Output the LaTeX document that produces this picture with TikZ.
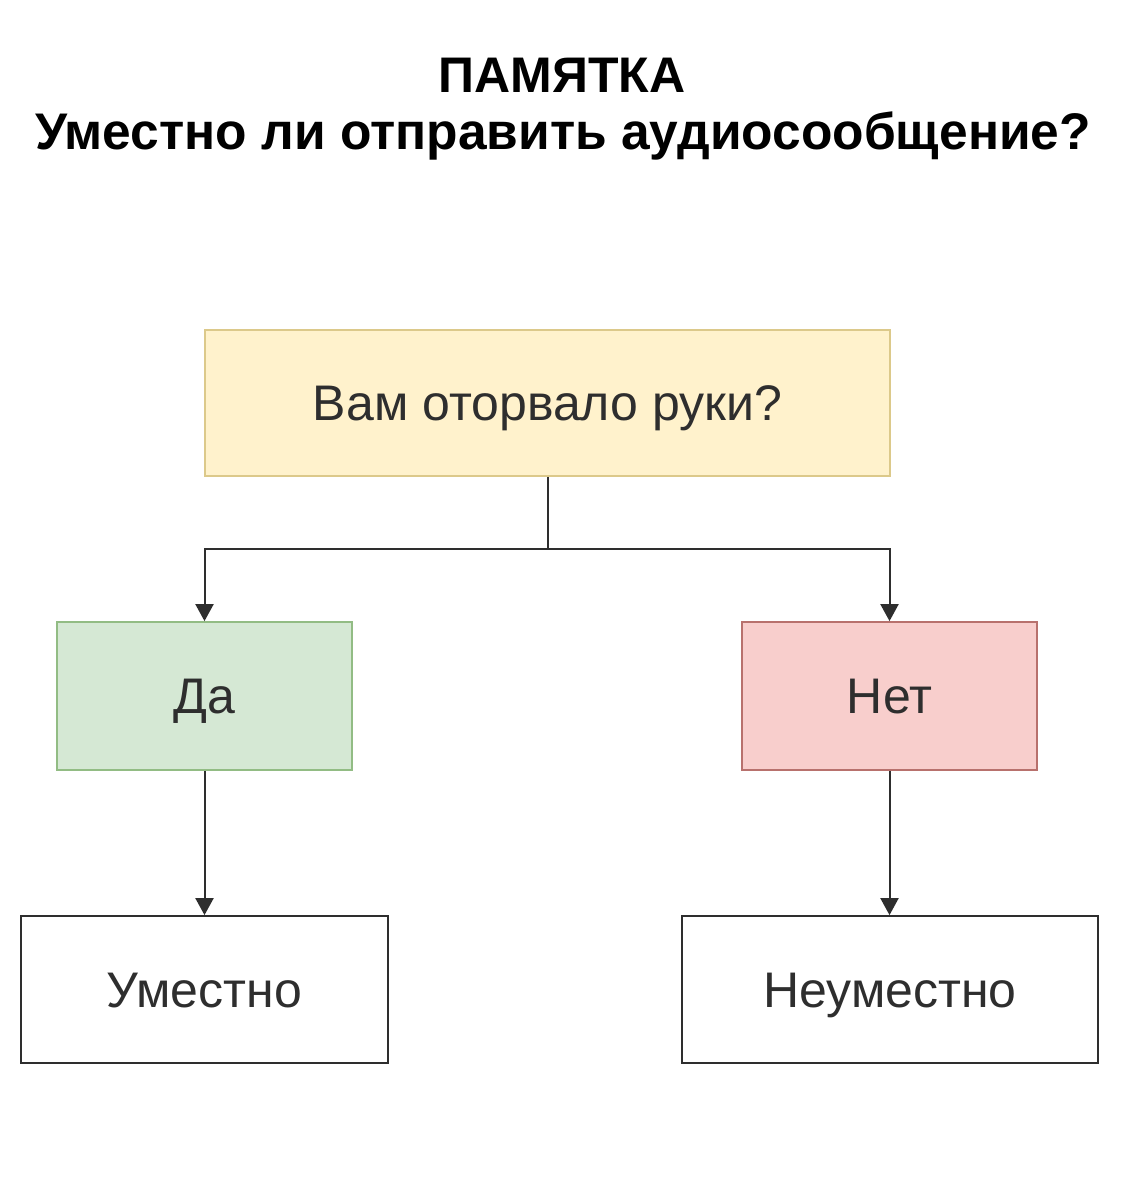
\documentclass[tikz,border=0pt]{standalone}
\usepackage{fontspec}
\setmainfont{Liberation Sans}
\usetikzlibrary{arrows.meta}
\definecolor{yfill}{HTML}{FFF2CC}\definecolor{ydraw}{HTML}{DCC98A}
\definecolor{gfill}{HTML}{D5E8D4}\definecolor{gdraw}{HTML}{92BC84}
\definecolor{rfill}{HTML}{F8CECC}\definecolor{rdraw}{HTML}{B8716D}
\definecolor{ink}{HTML}{2E2E2E}
\begin{document}
\begin{tikzpicture}[x=1pt,y=-1pt,
  box/.style={draw, line width=1.8pt, minimum width=#1, inner sep=0pt, text=ink,
    font=\fontsize{50}{54}\selectfont, text height=35.8pt, text depth=0pt},
  conn/.style={draw=ink, line width=2pt},
  arr/.style={conn, -{Triangle[width=18pt,length=17pt]}},
  ttl/.style={text=black, inner sep=0pt, text depth=0pt}]
\useasboundingbox[fill=white] (0,0) rectangle (1124,1204);
\node[ttl, font=\bfseries\fontsize{50}{54}\selectfont, text height=35.8pt] (t1) at (562,75) {ПАМЯТКА};
\node[ttl, font=\bfseries\fontsize{51.5}{56}\selectfont, text height=36.9pt] (t2) at (563,131) {Уместно ли отправить аудиосообщение?};
\node[box=685pt, minimum height=146pt, fill=yfill, draw=ydraw] (q) at (547.5,403) {Вам оторвало руки?};
\node[box=295pt, minimum height=148pt, fill=gfill, draw=gdraw] (yes) at (204.5,696) {Да};
\node[box=295pt, minimum height=148pt, fill=rfill, draw=rdraw] (no) at (889.5,696) {Нет};
\node[box=367pt, minimum height=147pt, fill=white, draw=ink] (ok) at (204.5,989.5) {Уместно};
\node[box=416pt, minimum height=147pt, fill=white, draw=ink] (nok) at (890,989.5) {Неуместно};
\coordinate (j) at (547.5,549);
\draw[conn] (q.south) -- (j);
\draw[arr] (j) -| (yes.north);
\draw[arr] (j) -| (no.north);
\draw[arr] (yes.south) -- (yes.south |- ok.north);
\draw[arr] (no.south) -- (no.south |- nok.north);
\end{tikzpicture}
\end{document}
